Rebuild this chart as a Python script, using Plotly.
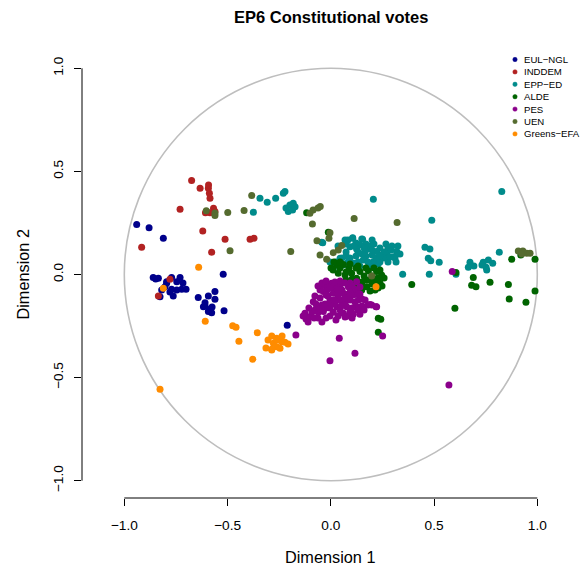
import plotly.graph_objects as go

# Ideal-point estimates (Dimension 1, Dimension 2) for MEPs, by political group
EUL_NGL = [
    (-0.940, 0.243), (-0.880, 0.227), (-0.811, 0.176), (-0.860, -0.014), (-0.835, -0.018),
    (-0.795, -0.035), (-0.771, -0.014), (-0.730, -0.014), (-0.746, -0.035), (-0.803, -0.059),
    (-0.819, -0.075), (-0.771, -0.072), (-0.746, -0.075), (-0.722, -0.072), (-0.701, -0.072),
    (-0.763, -0.104), (-0.827, -0.108), (-0.521, 0.001), (-0.642, -0.111), (-0.593, -0.104),
    (-0.561, -0.083), (-0.561, -0.120), (-0.609, -0.137), (-0.617, -0.156), (-0.585, -0.169),
    (-0.577, -0.185), (-0.593, -0.180), (-0.517, -0.176), (-0.211, -0.246), (-0.795, -0.043),
    (-0.848, -0.022), (-0.609, -0.153), (-0.575, -0.158), (-0.716, -0.041), (-0.779, -0.085),
]
INDDEM = [
    (-0.674, 0.456), (-0.633, 0.418), (-0.593, 0.418), (-0.588, 0.394), (-0.585, 0.370),
    (-0.592, 0.434), (-0.730, 0.316), (-0.607, 0.300), (-0.568, 0.321), (-0.561, 0.305),
    (-0.585, 0.300), (-0.620, 0.211), (-0.512, 0.171), (-0.577, 0.108), (-0.391, 0.171),
    (-0.372, 0.176), (-0.916, 0.132), (-0.779, -0.023), (-0.835, -0.104),
]
EPP_ED = [
    (-0.343, 0.370), (-0.308, 0.350), (-0.267, 0.370), (-0.230, 0.394), (-0.222, 0.403),
    (-0.198, 0.337), (-0.182, 0.345), (-0.206, 0.305), (-0.185, 0.313), (-0.173, 0.329),
    (-0.217, 0.323), (-0.375, 0.302), (0.206, 0.365), (0.106, 0.176), (0.154, 0.171),
    (-0.039, 0.154), (0.828, 0.402), (0.489, 0.263), (0.456, 0.132), (0.480, 0.124),
    (0.472, 0.079), (0.484, 0.067), (0.525, 0.059), (0.348, 0.001), (0.477, 0.001),
    (0.606, 0.001), (0.674, 0.059), (0.666, 0.035), (0.693, 0.041), (0.738, 0.059),
    (0.752, 0.035), (0.763, 0.070), (0.784, 0.054), (0.755, 0.022), (0.732, 0.046),
    (0.816, 0.108), (0.238, 0.095),
    (0.106, 0.178), (0.150, 0.172), (-0.044, 0.156), (0.093, 0.135), (0.125, 0.124),
    (0.074, 0.109), (0.045, 0.079), (0.012, 0.033), (0.222, 0.111), (0.271, 0.103),
    (0.303, 0.086), (0.319, 0.111), (0.206, 0.062), (0.157, 0.070), (0.109, 0.054),
    (0.061, 0.046), (0.190, 0.038), (0.141, 0.143), (0.170, 0.119), (0.190, 0.138),
    (0.238, 0.129), (0.277, 0.129), (0.258, 0.080), (0.219, 0.080), (0.170, 0.090),
    (0.122, 0.090), (0.093, 0.080), (0.141, 0.041), (0.229, 0.051), (0.292, 0.119),
    (0.200, 0.167), (0.069, 0.167), (0.035, 0.138), (0.025, 0.061), (0.074, 0.148),
    (0.277, 0.061), (0.311, 0.080), (0.335, 0.099), (0.170, 0.148), (0.132, 0.109),
    (0.200, 0.095), (0.238, 0.061), (0.054, 0.080),
    (0.083, 0.167), (0.122, 0.153), (0.161, 0.129), (0.200, 0.119), (0.258, 0.109),
    (0.316, 0.061), (0.287, 0.085), (0.238, 0.090), (0.180, 0.061), (0.132, 0.061),
    (0.083, 0.061), (0.035, 0.051), (0.074, 0.090), (0.112, 0.138), (0.151, 0.099),
    (0.209, 0.148), (0.267, 0.148), (0.296, 0.138), (0.325, 0.138), (-0.004, 0.061),
]
ALDE = [
    (0.876, 0.074), (0.920, 0.095), (0.989, 0.074), (0.690, -0.014), (0.682, -0.052),
    (0.703, -0.059), (0.771, -0.038), (0.860, -0.048), (0.989, -0.080), (0.864, -0.119),
    (0.945, -0.135), (0.601, -0.164), (0.392, -0.048), (0.606, 0.010), (-0.117, 0.300),
    (-0.012, 0.205), (0.230, -0.212), (0.242, -0.217), (0.230, -0.280),
    (0.029, 0.046), (0.061, 0.049), (0.036, 0.006), (0.069, -0.002), (0.101, 0.006),
    (0.141, 0.014), (0.182, 0.017), (0.222, 0.014), (0.246, -0.002), (0.125, -0.018),
    (0.174, -0.027), (0.214, -0.027), (0.238, -0.043), (0.174, -0.059), (0.150, -0.075),
    (0.109, -0.043), (0.015, 0.061), (0.001, 0.032), (0.088, 0.032), (0.200, -0.007),
    (0.132, -0.046), (0.190, -0.080), (0.103, -0.022),
    (0.045, 0.032), (0.122, 0.032), (0.161, -0.007), (0.074, -0.027), (0.200, -0.046),
    (0.151, -0.036), (0.229, -0.065), (0.112, -0.065),
    (0.045, 0.061), (0.093, 0.051), (0.132, 0.041), (0.170, 0.032), (0.209, 0.032),
    (0.238, 0.022), (0.258, -0.017), (0.229, -0.017), (0.190, -0.027), (0.151, -0.056),
    (0.214, -0.075), (0.248, -0.056), (0.074, 0.012), (0.011, 0.022),
]
PES = [
    (-0.036, -0.051), (0.004, -0.043), (0.045, -0.051), (0.085, -0.059), (0.125, -0.075),
    (-0.036, -0.083), (0.012, -0.091), (0.061, -0.091), (0.109, -0.099), (-0.004, -0.124),
    (0.045, -0.124), (0.093, -0.124), (0.133, -0.124), (0.029, -0.156), (0.077, -0.156),
    (0.125, -0.156), (-0.085, -0.132), (-0.077, -0.172), (-0.125, -0.188), (-0.101, -0.205),
    (-0.036, -0.180), (0.012, -0.183), (0.061, -0.188), (0.109, -0.193), (0.141, -0.193),
    (0.198, -0.148), (0.222, -0.156), (-0.061, -0.183), (-0.020, -0.161), (0.125, -0.035),
    (-0.014, -0.104), (0.035, -0.104), (0.085, -0.095), (0.069, -0.143), (0.020, -0.143),
    (-0.028, -0.143), (-0.052, -0.114), (0.103, -0.162), (0.151, -0.153), (0.045, -0.172),
    (-0.004, -0.201), (-0.062, -0.211), (-0.120, -0.216), (0.083, -0.201), (0.112, -0.070),
    (0.020, -0.065), (-0.018, -0.075), (-0.043, -0.041), (0.069, -0.041), (0.103, -0.056),
    (0.141, -0.095), (0.151, -0.119), (-0.052, -0.075), (-0.072, -0.143), (-0.043, -0.148),
    (-0.004, -0.162), (0.035, -0.201), (0.069, -0.206), (-0.023, -0.211), (-0.091, -0.182),
    (-0.106, -0.162), (0.093, -0.086), (0.054, -0.075), (0.020, -0.036), (-0.014, -0.056),
    (0.132, -0.172), (0.166, -0.124), (0.180, -0.148),
    (-0.062, -0.056), (-0.023, -0.032), (0.045, -0.032), (0.093, -0.041), (0.141, -0.061),
    (-0.023, -0.099), (0.069, -0.114), (0.117, -0.133), (0.050, -0.153), (0.001, -0.143),
    (-0.052, -0.167), (0.093, -0.182), (0.161, -0.172), (0.025, -0.221), (-0.081, -0.211),
    (-0.134, -0.201), (-0.110, -0.230), (-0.043, -0.230), (0.103, -0.211), (0.132, -0.095),
    (0.016, -0.124), (-0.077, -0.104), (0.093, -0.104), (-0.004, -0.065), (0.035, -0.075),
    (-0.169, -0.293), (0.041, -0.309), (0.117, -0.382), (-0.004, -0.418), (0.251, -0.298),
    (0.190, -0.145), (0.219, -0.156), (0.572, -0.536), (0.588, 0.014),
]
UEN = [
    (-0.383, 0.383), (-0.603, 0.309), (-0.561, 0.298), (-0.561, 0.286), (-0.499, 0.301),
    (-0.420, 0.310), (-0.488, 0.115), (-0.194, 0.112), (-0.101, 0.297), (-0.086, 0.313),
    (-0.051, 0.330), (-0.062, 0.323), (-0.089, 0.245), (0.113, 0.272), (0.321, 0.252),
    (-0.004, 0.203), (-0.009, 0.176), (-0.067, 0.164), (-0.052, 0.095), (-0.020, 0.074),
    (0.012, 0.106), (0.036, 0.119), (0.053, 0.141), (0.198, -0.007), (0.908, 0.114),
    (0.930, 0.114), (0.949, 0.103), (0.965, 0.103), (0.925, 0.099),
]
GREENS_EFA = [
    (-0.827, -0.557), (-0.640, 0.035), (-0.811, -0.067), (-0.608, -0.227), (-0.475, -0.248),
    (-0.459, -0.256), (-0.356, -0.282), (-0.445, -0.324), (-0.378, -0.411),
    (-0.286, -0.298), (-0.262, -0.309), (-0.238, -0.326), (-0.278, -0.334), (-0.222, -0.329),
    (-0.262, -0.350), (-0.286, -0.366), (-0.246, -0.358), (-0.262, -0.318), (-0.286, -0.363),
    (-0.304, -0.318), (-0.236, -0.298), (-0.207, -0.337), (-0.314, -0.356), (0.219, -0.059),
]

GROUP_NAMES = ["EUL−NGL", "INDDEM", "EPP−ED", "ALDE", "PES", "UEN", "Greens−EFA"]
GROUP_POINTS = [EUL_NGL, INDDEM, EPP_ED, ALDE, PES, UEN, GREENS_EFA]
GROUP_COLORS = ["#00008B", "#B22222", "#008B8B", "#006400", "#8B008B", "#556B2F", "#FF8C00"]

TICKS = [-1.0, -0.5, 0.0, 0.5, 1.0]
TICK_TEXT = ["−1.0", "−0.5", "0.0", "0.5", "1.0"]

# ---- page geometry (pixels) ----
W, H = 582, 569
ML, MR, MT, MB = 82, 2, 51, 71
X0_PX, X_SCALE = 330.8, 206.5      # pixel of x=0, pixels per unit
Y0_PX, Y_SCALE = 274.5, 206.2      # pixel of y=0, pixels per unit

x_range = [(ML - X0_PX) / X_SCALE, (W - MR - X0_PX) / X_SCALE]
y_range = [(Y0_PX - (H - MB)) / Y_SCALE, (Y0_PX - MT) / Y_SCALE]
plot_w = W - ML - MR
plot_h = H - MT - MB


def px_to_paper_x(px):
    return (px - ML) / plot_w


def px_to_paper_y(py):
    return (H - MB - py) / plot_h


FONT = "Liberation Sans, Arial, Helvetica, sans-serif"

fig = go.Figure()

for name, pts, col in zip(GROUP_NAMES, GROUP_POINTS, GROUP_COLORS):
    fig.add_trace(go.Scatter(
        x=[p[0] for p in pts], y=[p[1] for p in pts],
        mode="markers", name=name, showlegend=False,
        marker=dict(size=7, color=col, line=dict(width=0)),
        hoverinfo="skip",
    ))

shapes = [
    # unit circle
    dict(type="circle", xref="x", yref="y", x0=-1, x1=1, y0=-1, y1=1,
         line=dict(color="#BEBEBE", width=1.6), layer="below"),
    # axis lines spanning first to last tick
    dict(type="line", xref="x", yref="paper", x0=TICKS[0], x1=TICKS[-1], y0=0, y1=0,
         line=dict(color="black", width=1)),
    dict(type="line", xref="paper", yref="y", x0=0, x1=0, y0=TICKS[0], y1=TICKS[-1],
         line=dict(color="black", width=1)),
]

annotations = [
    dict(text="<b>EP6 Constitutional votes</b>", xref="paper", yref="paper",
         x=px_to_paper_x(330.8), y=px_to_paper_y(17), xanchor="center", yanchor="middle",
         showarrow=False, font=dict(family=FONT, size=16.5, color="black")),
    dict(text="Dimension 1", xref="paper", yref="paper",
         x=px_to_paper_x(330.8), y=px_to_paper_y(556.5), xanchor="center", yanchor="middle",
         showarrow=False, font=dict(family=FONT, size=16.3, color="black")),
    dict(text="Dimension 2", xref="paper", yref="paper",
         x=px_to_paper_x(22), y=px_to_paper_y(274.5), xanchor="center", yanchor="middle",
         textangle=-90, showarrow=False, font=dict(family=FONT, size=16.3, color="black")),
]

# legend in the top-right corner of the plotting region
LEG_MARK_X, LEG_TEXT_X, LEG_TOP, LEG_STEP = 515, 522, 59.5, 12.4
for i, (name, col) in enumerate(zip(GROUP_NAMES, GROUP_COLORS)):
    py = LEG_TOP + i * LEG_STEP
    shapes.append(dict(type="circle", xref="paper", yref="paper",
                       xsizemode="pixel", ysizemode="pixel",
                       xanchor=px_to_paper_x(LEG_MARK_X), yanchor=px_to_paper_y(py),
                       x0=-2.2, x1=2.2, y0=-2.2, y1=2.2,
                       fillcolor=col, line=dict(color=col, width=0.5)))
    annotations.append(dict(text=name, xref="paper", yref="paper",
                            x=px_to_paper_x(LEG_TEXT_X), y=px_to_paper_y(py),
                            xanchor="left", yanchor="middle", showarrow=False,
                            font=dict(family=FONT, size=9.6, color="black")))

axis_common = dict(
    showgrid=False, zeroline=False, showline=False,
    ticks="outside", ticklen=7, tickwidth=1, tickcolor="black",
    tickvals=TICKS, ticktext=TICK_TEXT,
    tickfont=dict(family=FONT, size=13.7, color="black"),
    automargin=False, fixedrange=True,
)

fig.update_layout(
    width=W, height=H,
    margin=dict(l=ML, r=MR, t=MT, b=MB, pad=0),
    paper_bgcolor="white", plot_bgcolor="white",
    xaxis=dict(range=x_range, ticklabelstandoff=8, **axis_common),
    yaxis=dict(range=y_range, tickangle=-90, ticklabelstandoff=6, **axis_common),
    shapes=shapes, annotations=annotations,
    showlegend=False,
)

fig.write_html("out.html")
